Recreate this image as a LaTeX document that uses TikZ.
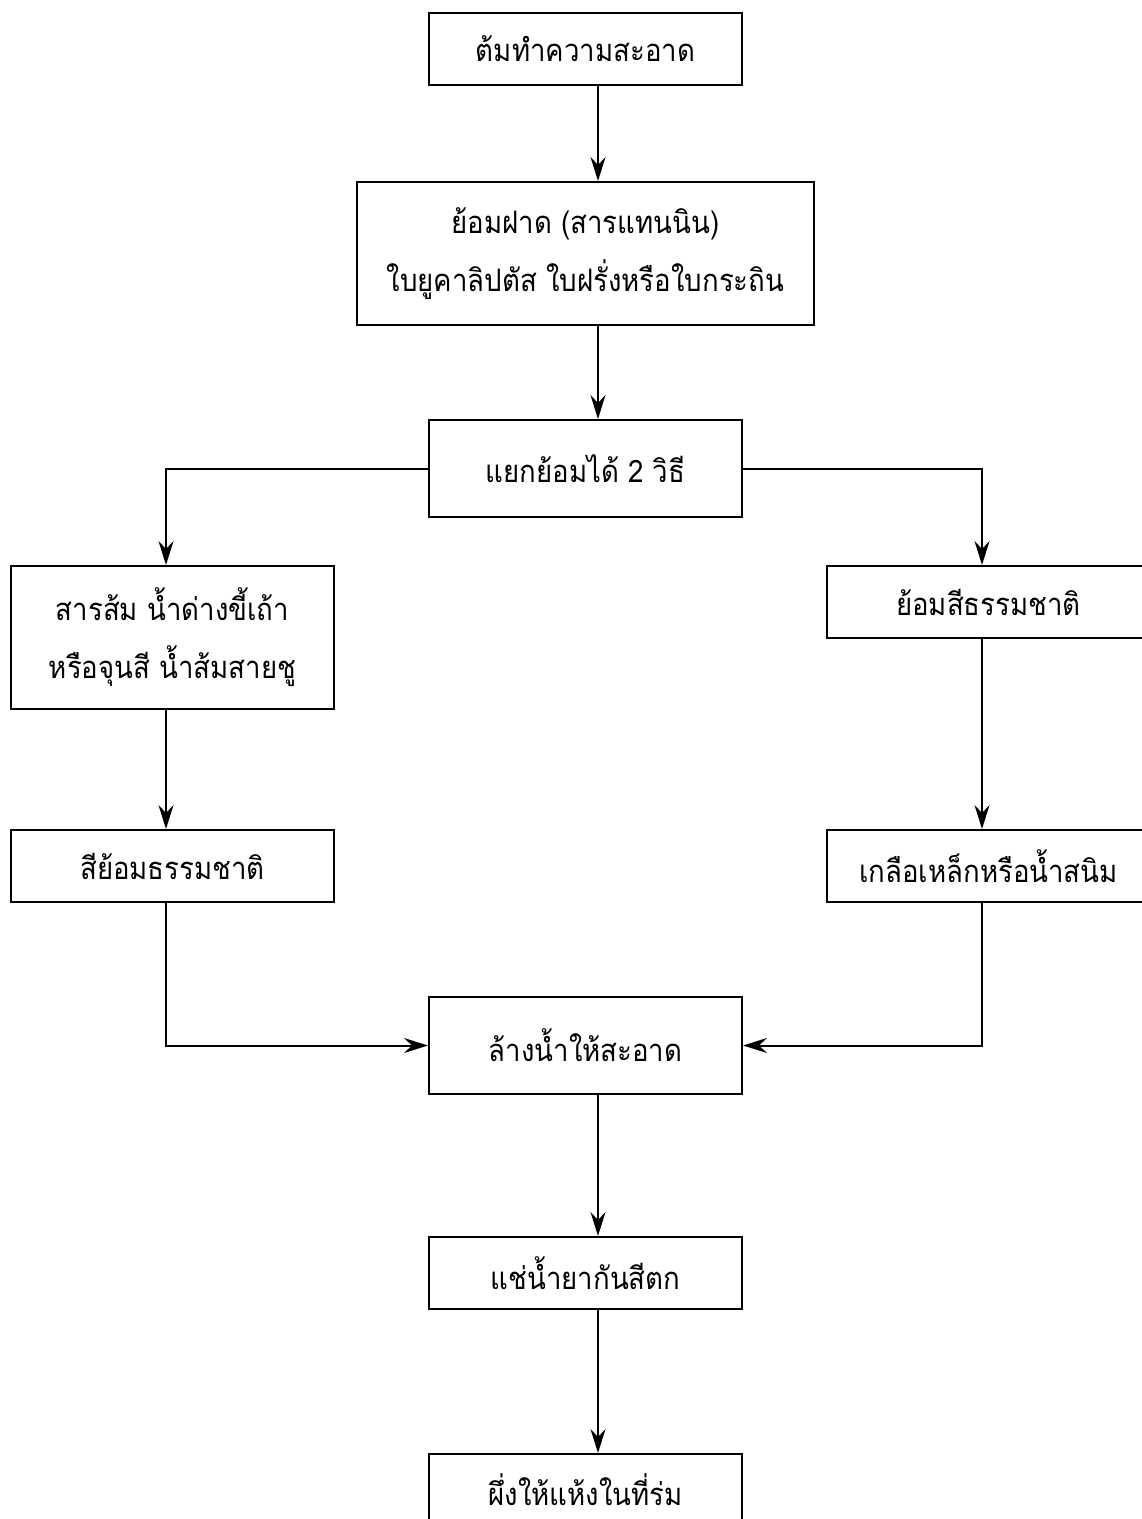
\documentclass[tikz,border=0pt]{standalone}
\usepackage{fontspec}
\newfontfamily\thaifont[Script=Thai,FakeStretch=0.89]{Loma}
\usetikzlibrary{arrows.meta}
\begin{document}
\begin{tikzpicture}[x=1pt,y=-1pt,
  stepbox/.style={draw, line width=2pt, inner sep=0pt, align=center,
    font=\thaifont\fontsize{31}{58}\selectfont},
  flow/.style={line width=2pt, -{Stealth[length=24pt,width=15pt,inset=8pt]}}]
\useasboundingbox (0,0) rectangle (1142,1519);
\clip (0,0) rectangle (1142,1519);

% connector columns
\coordinate (mx) at (598,0);
\coordinate (lx) at (166,0);
\coordinate (rx) at (982,0);

% process steps
\node[stepbox, minimum width=313pt, minimum height=72pt] (b1) at (585.5,49) {ต้มทำความสะอาด};
\node[stepbox, minimum width=457pt, minimum height=143pt] (b2) at (585.5,253.5) {ย้อมฝาด (สารแทนนิน)\\ใบยูคาลิปตัส ใบฝรั่งหรือใบกระถิน};
\node[stepbox, minimum width=313pt, minimum height=97pt] (b3) at (585.5,468.5) {แยกย้อมได้ 2 วิธี};
\node[stepbox, minimum width=323pt, minimum height=143pt] (b4) at (172.5,637.5) {สารส้ม น้ำด่างขี้เถ้า\\หรือจุนสี น้ำส้มสายชู};
\node[stepbox, minimum width=323pt, minimum height=72pt] (b5) at (988.5,602) {ย้อมสีธรรมชาติ};
\node[stepbox, minimum width=323pt, minimum height=72pt] (b6) at (172.5,866) {สีย้อมธรรมชาติ};
\node[stepbox, minimum width=323pt, minimum height=72pt] (b7) at (988.5,866) {เกลือเหล็กหรือน้ำสนิม};
\node[stepbox, minimum width=313pt, minimum height=97pt] (b8) at (585.5,1045.5) {ล้างน้ำให้สะอาด};
\node[stepbox, minimum width=313pt, minimum height=72pt] (b9) at (585.5,1273) {แช่น้ำยากันสีตก};
\node[stepbox, minimum width=313pt, minimum height=72pt] (b10) at (585.5,1490) {ผึ่งให้แห้งในที่ร่ม};

% connectors
\draw[flow] (b1.south -| mx) -- (b2.north -| mx);
\draw[flow] (b2.south -| mx) -- (b3.north -| mx);
\draw[flow] (b3.west) -| (b4.north -| lx);
\draw[flow] (b3.east) -| (b5.north -| rx);
\draw[flow] (b4.south -| lx) -- (b6.north -| lx);
\draw[flow] (b5.south -| rx) -- (b7.north -| rx);
\draw[flow] (b6.south -| lx) |- (b8.west);
\draw[flow] (b7.south -| rx) |- (b8.east);
\draw[flow] (b8.south -| mx) -- (b9.north -| mx);
\draw[flow] (b9.south -| mx) -- (b10.north -| mx);
\end{tikzpicture}
\end{document}
